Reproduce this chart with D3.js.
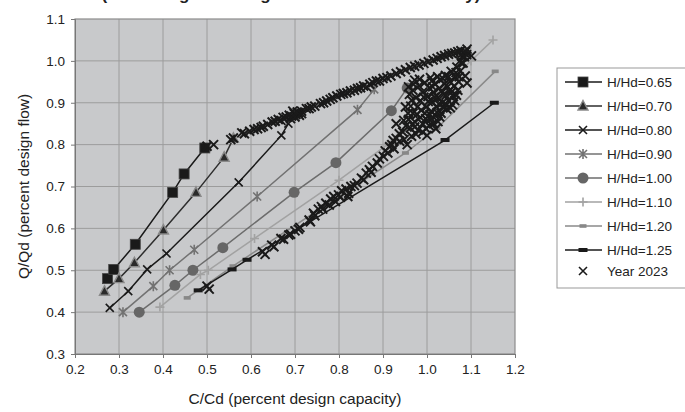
<!DOCTYPE html>
<html lang="en">
<head>
<script src="https://d3js.org/d3.v7.min.js"></script>
<style>
  body { margin: 0; background: #fff; }
  text { font-family: "Liberation Sans", Arial, sans-serif; fill: #222; }
</style>
</head>
<body>
<svg id="chart" width="685" height="412"></svg>
<script>
// H/Hd curves: [C/Cd, Q/Qd]
const h065 = [[0.274,0.480],[0.288,0.502],[0.337,0.562],[0.422,0.686],[0.448,0.730],[0.495,0.792]];
const h070 = [[0.267,0.450],[0.300,0.480],[0.335,0.518],[0.401,0.596],[0.475,0.686],[0.539,0.770],[0.560,0.815]];
const h080 = [[0.279,0.410],[0.321,0.450],[0.364,0.502],[0.408,0.540],[0.572,0.710],[0.669,0.822],[0.685,0.850]];
const h090 = [[0.309,0.400],[0.378,0.462],[0.415,0.500],[0.471,0.549],[0.614,0.676],[0.842,0.883],[0.880,0.932]];
const h100 = [[0.346,0.400],[0.427,0.464],[0.468,0.500],[0.536,0.554],[0.698,0.686],[0.793,0.757],[0.919,0.881],[0.955,0.935]];
const h110 = [[0.393,0.412],[0.485,0.490],[0.503,0.500],[0.608,0.576],[0.800,0.715],[0.910,0.800],[1.020,0.920],[1.100,1.000],[1.150,1.050]];
const h120 = [[0.455,0.434],[0.559,0.510],[0.951,0.780],[1.023,0.839],[1.155,0.975]];
const h125 = [[0.480,0.452],[0.557,0.502],[0.591,0.525],[1.041,0.811],[1.153,0.900]];

const year2023 = [
  // lower branch
  [0.500,0.462],[0.505,0.455],[0.626,0.544],[0.632,0.538],[0.647,0.560],[0.652,0.556],[0.668,0.576],[0.674,0.574],
  [0.686,0.584],[0.690,0.586],[0.700,0.594],[0.708,0.598],[0.711,0.602],[0.732,0.620],[0.735,0.616],[0.742,0.636],
  [0.745,0.630],[0.753,0.646],[0.760,0.652],[0.763,0.646],[0.770,0.660],[0.778,0.656],[0.781,0.670],[0.788,0.676],
  [0.792,0.664],[0.799,0.680],[0.803,0.674],[0.806,0.690],[0.816,0.694],[0.820,0.676],[0.822,0.684],[0.827,0.700],
  [0.835,0.702],[0.841,0.708],[0.851,0.720],[0.856,0.716],[0.862,0.732],[0.869,0.740],[0.873,0.734],[0.876,0.748],
  [0.887,0.756],[0.892,0.766],[0.901,0.772],[0.905,0.785],[0.911,0.780],[0.915,0.795],
  // tail into cluster
  [0.923,0.810],[0.937,0.826],[0.930,0.850],[0.947,0.858],[0.951,0.890],[0.965,0.906],[0.958,0.938],[0.972,0.954],
  // cluster
  [0.960,0.920],[0.968,0.930],[0.975,0.912],[0.982,0.940],[0.985,0.905],[0.990,0.925],[0.995,0.948],[0.998,0.890],
  [1.002,0.915],[1.005,0.935],[1.008,0.960],[1.010,0.880],[1.012,0.902],[1.015,0.925],[1.018,0.945],[1.020,0.868],
  [1.022,0.890],[1.025,0.912],[1.028,0.935],[1.030,0.955],[1.032,0.875],[1.035,0.900],[1.038,0.920],[1.040,0.945],
  [1.042,0.965],[1.045,0.885],[1.048,0.905],[1.050,0.928],[1.052,0.950],[1.055,0.975],[1.058,0.895],[1.060,0.915],
  [1.062,0.940],[1.065,0.960],[1.068,0.985],[1.070,0.930],[1.072,0.950],[1.075,0.975],[1.078,0.995],[1.080,1.010],
  [0.945,0.830],[0.952,0.845],[0.958,0.860],[0.962,0.840],[0.968,0.875],[0.972,0.855],[0.978,0.890],[0.980,0.835],
  [0.985,0.865],[0.990,0.850],[0.995,0.875],[1.000,0.858],[1.005,0.845],[1.010,0.862],[1.015,0.850],[1.020,0.838],
  [1.025,0.855],[0.930,0.815],[0.938,0.808],[0.948,0.812],[0.955,0.800],[0.965,0.820],[0.975,0.825],[0.990,0.830],
  [1.000,0.822],[0.920,0.800],[0.925,0.790],
  [1.091,1.028],[1.101,1.012],[1.087,0.964],[1.091,0.947],
  [1.003,0.903],[1.017,0.913],[1.027,0.897],[1.033,0.928],[1.043,0.918],[1.013,0.938],[0.993,0.913],[1.007,0.872],
  [1.023,0.877],[1.038,0.889],[1.047,0.938],[1.057,0.927],[1.063,0.905],[0.987,0.882],[0.977,0.872],[0.997,0.862],
  [1.011,0.952],[1.024,0.962],[1.036,0.958],[1.049,0.962],[0.983,0.956],[0.969,0.944],[0.963,0.892],[0.957,0.875],
  [1.053,0.888],[1.067,0.918],[1.073,0.962],[1.066,0.972],[1.044,0.895],[1.029,0.866],[0.998,0.838],[0.972,0.842],
  // upper branch
  [0.500,0.796],[0.515,0.800],[0.554,0.812],[0.560,0.816],[0.579,0.828],[0.585,0.826],[0.597,0.832],[0.607,0.836],
  [0.615,0.838],[0.623,0.841],[0.628,0.844],[0.638,0.848],[0.648,0.854],[0.655,0.856],[0.662,0.860],[0.668,0.858],
  [0.673,0.865],[0.680,0.866],[0.687,0.870],[0.692,0.868],[0.698,0.874],[0.702,0.872],[0.708,0.876],[0.715,0.880],
  [0.690,0.862],[0.700,0.866],[0.710,0.870],[0.705,0.878],[0.695,0.880],[0.715,0.874],
  [0.726,0.886],[0.732,0.886],[0.737,0.890],[0.745,0.892],[0.758,0.898],[0.765,0.900],[0.772,0.904],[0.780,0.908],
  [0.786,0.912],[0.795,0.916],[0.804,0.920],[0.810,0.922],[0.818,0.924],[0.826,0.928],[0.835,0.930],[0.842,0.934],
  [0.849,0.936],[0.856,0.940],[0.863,0.938],[0.870,0.944],[0.877,0.948],[0.885,0.952],[0.892,0.952],[0.900,0.958],
  [0.909,0.960],[0.918,0.964],[0.930,0.970],[0.940,0.974],[0.951,0.979],[0.962,0.984],[0.972,0.987],[0.982,0.990],
  [0.993,0.994],[1.003,0.998],[1.014,1.002],[1.023,1.006],[1.032,1.010],[1.040,1.013],[1.049,1.016],[1.056,1.018],
  [1.063,1.019],[1.070,1.022],[1.077,1.024],[1.083,1.020],[1.088,1.022],[1.085,1.010],[1.090,1.015],[1.075,1.000],
  [1.082,0.995]
];

const xTicks = [0.2,0.3,0.4,0.5,0.6,0.7,0.8,0.9,1.0,1.1,1.2];
const yTicks = [0.3,0.4,0.5,0.6,0.7,0.8,0.9,1.0,1.1];

const seriesNames = ["H/Hd=0.65","H/Hd=0.70","H/Hd=0.80","H/Hd=0.90","H/Hd=1.00","H/Hd=1.10","H/Hd=1.20","H/Hd=1.25"];
const seriesData = [h065, h070, h080, h090, h100, h110, h120, h125];
const lineColors = ["#1a1a1a","#2e2e2e","#1a1a1a","#727272","#6c6c6c","#a2a2a2","#8a8a8a","#1a1a1a"];
const markerTypes = ["square","triangle","times","asterisk","circle","plus","dashSmall","dash"];

const svg = d3.select("#chart");
const margin = {top: 19, right: 170, bottom: 58, left: 75};
const width = 685, height = 412;

const x = d3.scaleLinear().domain([0.2, 1.2]).range([margin.left, width - margin.right]);
const y = d3.scaleLinear().domain([0.3, 1.1]).range([height - margin.bottom, margin.top]);

// title: in the reference only its lowest strokes are inside the picture
svg.append("text")
  .attr("x", 291).attr("y", 0)
  .attr("text-anchor", "middle")
  .style("font-size", "17px").style("font-weight", "bold")
  .text("(Percentage of Design Flow and Head Velocity)");

// plot background
svg.append("rect")
  .attr("x", x(0.2)).attr("y", y(1.1))
  .attr("width", x(1.2) - x(0.2)).attr("height", y(0.3) - y(1.1))
  .attr("fill", "#c8c9cb");

// grid
svg.append("g").selectAll("line").data(xTicks.slice(1, -1)).join("line")
  .attr("x1", d => x(d)).attr("x2", d => x(d))
  .attr("y1", y(1.1)).attr("y2", y(0.3))
  .attr("stroke", "#9c9c9c").attr("stroke-width", 1);
svg.append("g").selectAll("line").data(yTicks.slice(1, -1)).join("line")
  .attr("x1", x(0.2)).attr("x2", x(1.2))
  .attr("y1", d => y(d)).attr("y2", d => y(d))
  .attr("stroke", "#9c9c9c").attr("stroke-width", 1);

svg.append("rect")
  .attr("x", x(0.2)).attr("y", y(1.1))
  .attr("width", x(1.2) - x(0.2)).attr("height", y(0.3) - y(1.1))
  .attr("fill", "none").attr("stroke", "#8c8c8c").attr("stroke-width", 1.2);

// axes
const xAxis = svg.append("g")
  .attr("transform", `translate(0,${y(0.3)})`)
  .call(d3.axisBottom(x).tickValues(xTicks).tickFormat(d3.format(".1f")).tickSize(4).tickPadding(6));
const yAxis = svg.append("g")
  .attr("transform", `translate(${x(0.2)},0)`)
  .call(d3.axisLeft(y).tickValues(yTicks).tickFormat(d3.format(".1f")).tickSize(4).tickPadding(6));
[xAxis, yAxis].forEach(a => {
  a.select(".domain").attr("stroke", "#777");
  a.selectAll(".tick line").attr("stroke", "#777");
  a.selectAll(".tick text").style("font-size", "13.5px").style("font-family", "Liberation Sans, Arial, sans-serif").attr("fill", "#222");
});

svg.append("text")
  .attr("x", (x(0.2) + x(1.2)) / 2).attr("y", 404)
  .attr("text-anchor", "middle")
  .style("font-size", "15.5px")
  .text("C/Cd (percent design capacity)");
svg.append("text")
  .attr("transform", `translate(29,${(y(0.3) + y(1.1)) / 2}) rotate(-90)`)
  .attr("text-anchor", "middle")
  .style("font-size", "15.5px")
  .text("Q/Qd (percent design flow)");

function markerPath(type) {
  if (type === "times") return "M-4,-4L4,4M-4,4L4,-4";
  if (type === "plus") return "M-4.5,0H4.5M0,-4.5V4.5";
  if (type === "asterisk") return "M-4,-4L4,4M-4,4L4,-4M0,-5V5";
  return null;
}

function drawMarker(g, type, color) {
  if (type === "square") {
    g.append("rect").attr("x", -5).attr("y", -5).attr("width", 10).attr("height", 10)
      .attr("fill", "#1a1a1a").attr("stroke", "#444").attr("stroke-width", 0.8);
  } else if (type === "triangle") {
    g.append("path").attr("d", "M0,-5.5L5,4L-5,4Z")
      .attr("fill", "#2a2a2a").attr("stroke", "#8a8a8a").attr("stroke-width", 1.4);
  } else if (type === "circle") {
    g.append("circle").attr("r", 5.5).attr("fill", "#666");
  } else if (type === "dashSmall") {
    g.append("rect").attr("x", -3.5).attr("y", -1.8).attr("width", 7).attr("height", 3.6).attr("fill", "#888");
  } else if (type === "dash") {
    g.append("rect").attr("x", -4.5).attr("y", -2).attr("width", 9).attr("height", 4).attr("fill", "#1a1a1a");
  } else {
    g.append("path").attr("d", markerPath(type))
      .attr("fill", "none").attr("stroke", color).attr("stroke-width", 1.6);
  }
}

const line = d3.line().x(d => x(d[0])).y(d => y(d[1]));

seriesData.forEach((data, i) => {
  const g = svg.append("g");
  g.append("path").datum(data)
    .attr("d", line)
    .attr("fill", "none")
    .attr("stroke", lineColors[i])
    .attr("stroke-width", 1.5);
  data.forEach(d => {
    const m = g.append("g").attr("transform", `translate(${x(d[0])},${y(d[1])})`);
    drawMarker(m, markerTypes[i], lineColors[i]);
  });
});

// Year 2023 points
svg.append("g").selectAll("path").data(year2023).join("path")
  .attr("transform", d => `translate(${x(d[0])},${y(d[1])})`)
  .attr("d", "M-4.5,-4.5L4.5,4.5M-4.5,4.5L4.5,-4.5")
  .attr("fill", "none")
  .attr("stroke", "#1a1a1a")
  .attr("stroke-width", 2);

// legend
const legend = svg.append("g").attr("transform", "translate(557,68)");
legend.append("rect")
  .attr("x", 0).attr("y", 0).attr("width", 140).attr("height", 220)
  .attr("fill", "#fff").attr("stroke", "#999").attr("stroke-width", 1);

seriesNames.forEach((name, i) => {
  const row = legend.append("g").attr("transform", `translate(0,${14 + i * 24})`);
  row.append("line").attr("x1", 8).attr("x2", 45).attr("y1", 0).attr("y2", 0)
    .attr("stroke", lineColors[i]).attr("stroke-width", 1.5);
  const m = row.append("g").attr("transform", "translate(26,0)");
  drawMarker(m, markerTypes[i], lineColors[i]);
  row.append("text").attr("x", 50).attr("y", 5).style("font-size", "13.5px").text(name);
});
const yr = legend.append("g").attr("transform", `translate(0,${14 + 8 * 24 - 3})`);
yr.append("path").attr("transform", "translate(26,0)")
  .attr("d", "M-4,-4L4,4M-4,4L4,-4").attr("fill", "none").attr("stroke", "#1a1a1a").attr("stroke-width", 1.6);
yr.append("text").attr("x", 50).attr("y", 5).style("font-size", "13.5px").text("Year 2023");
</script>
</body>
</html>
